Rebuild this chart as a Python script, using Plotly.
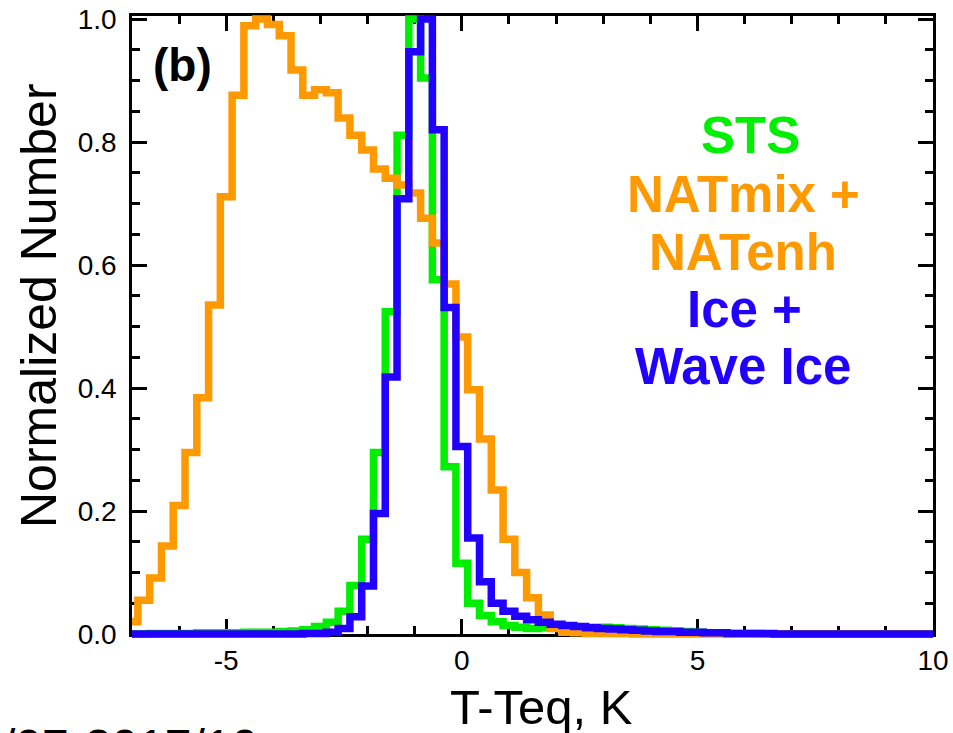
import numpy as np
import plotly.graph_objects as go

# Histogram bins: 0.25 K wide, centred on multiples of 0.25 K from -7 to 10 K
bin_centers = np.round(np.arange(-7.0, 10.0001, 0.25), 2)

# Normalized counts per bin
sts = [
    0.000, 0.000, 0.001, 0.001, 0.001, 0.001, 0.002, 0.002, 0.002, 0.002,
    0.003, 0.003, 0.003, 0.004, 0.005, 0.007, 0.012, 0.019, 0.037, 0.079,
    0.154, 0.295, 0.524, 0.811, 1.000, 0.904, 0.576, 0.272, 0.115, 0.050,
    0.030, 0.020, 0.014, 0.011, 0.009, 0.010, 0.010, 0.010, 0.011, 0.011,
    0.011, 0.010, 0.009, 0.008, 0.007, 0.006, 0.005, 0.004, 0.003, 0.002,
    0.002, 0.001, 0.001, 0.001, 0.000, 0.000, 0.000, 0.000, 0.000, 0.000,
    0.000, 0.000, 0.000, 0.000, 0.000, 0.000, 0.000, 0.000, 0.000,
]
nat = [
    0.020, 0.055, 0.091, 0.143, 0.209, 0.295, 0.384, 0.535, 0.711, 0.876,
    0.989, 1.000, 0.991, 0.973, 0.917, 0.876, 0.885, 0.880, 0.839, 0.811,
    0.787, 0.756, 0.741, 0.730, 0.717, 0.676, 0.636, 0.569, 0.483, 0.397,
    0.317, 0.234, 0.154, 0.100, 0.059, 0.031, 0.009, 0.003, 0.002, 0.001,
    0.001, 0.001, 0.001, 0.000, 0.000, 0.000, 0.000, 0.000, 0.000, 0.000,
    0.000, 0.000, 0.000, 0.000, 0.000, 0.000, 0.000, 0.000, 0.000, 0.000,
    0.000, 0.000, 0.000, 0.000, 0.000, 0.000, 0.000, 0.000, 0.000,
]
ice = [
    0.000, 0.000, 0.000, 0.000, 0.000, 0.000, 0.000, 0.000, 0.000, 0.000,
    0.000, 0.000, 0.000, 0.000, 0.000, 0.001, 0.001, 0.003, 0.009, 0.028,
    0.078, 0.196, 0.418, 0.708, 0.947, 1.000, 0.820, 0.531, 0.305, 0.156,
    0.085, 0.050, 0.037, 0.029, 0.023, 0.019, 0.016, 0.014, 0.012, 0.010,
    0.009, 0.008, 0.007, 0.006, 0.005, 0.004, 0.004, 0.003, 0.003, 0.002,
    0.002, 0.001, 0.001, 0.001, 0.001, 0.000, 0.000, 0.000, 0.000, 0.000,
    0.000, 0.000, 0.000, 0.000, 0.000, 0.000, 0.000, 0.000, 0.000,
]

series_names = ["STS", "NATmix + NATenh", "Ice + Wave Ice"]
series_colors = ["#00EE00", "#FF9900", "#2200FF"]

x_range = [-7.0, 10.0]
y_range = [0.0, 1.005]
x_tickvals = [-5, 0, 5, 10]
y_tickvals = [0.0, 0.2, 0.4, 0.6, 0.8, 1.0]

# Page geometry (pixels)
W, H = 953, 733
FRAME_L, FRAME_R, FRAME_T, FRAME_B = 132, 933, 16, 634
PAD = 10  # data layer extends past the frame so thick steps are not clipped
PAPER_L, PAPER_R = FRAME_L - PAD, FRAME_R + PAD
PAPER_T, PAPER_B = FRAME_T - PAD, FRAME_B + PAD
PW, PH = PAPER_R - PAPER_L, PAPER_B - PAPER_T


def px(xp, yp):
    """Convert page pixel position to paper coordinates."""
    return (xp - PAPER_L) / PW, (PAPER_B - yp) / PH


ux = (x_range[1] - x_range[0]) / (FRAME_R - FRAME_L)
uy = (y_range[1] - y_range[0]) / (FRAME_B - FRAME_T)
x2_range = [x_range[0] - PAD * ux, x_range[1] + PAD * ux]
y2_range = [y_range[0] - PAD * uy, y_range[1] + PAD * uy]

FONT = "Liberation Sans, Arial, Helvetica, sans-serif"

fig = go.Figure()

# Empty trace so the framed axes are rendered
fig.add_trace(go.Scatter(x=[], y=[], xaxis="x", yaxis="y",
                         showlegend=False, hoverinfo="skip"))

for vals, name, col in zip([sts, nat, ice], series_names, series_colors):
    fig.add_trace(go.Scatter(
        x=bin_centers, y=vals, name=name, mode="lines",
        line=dict(color=col, width=7.5, shape="hvh"),
        xaxis="x2", yaxis="y2", showlegend=False,
    ))

axis_common = dict(
    showline=True, linecolor="black", linewidth=2.5, mirror="ticks",
    ticks="inside", tickcolor="black", tickwidth=2.5, ticklen=15,
    showgrid=False, zeroline=False, automargin=False,
    tickfont=dict(family=FONT, size=28, color="black"),
)

fig.update_layout(
    width=W, height=H, autosize=False,
    margin=dict(l=PAPER_L, r=W - PAPER_R, t=PAPER_T, b=H - PAPER_B, pad=0,
                autoexpand=False),
    paper_bgcolor="white", plot_bgcolor="rgba(0,0,0,0)",
    xaxis=dict(
        domain=[PAD / PW, 1 - PAD / PW], anchor="y",
        range=x_range, tickvals=x_tickvals,
        ticktext=[str(v) for v in x_tickvals],
        minor=dict(dtick=1, ticks="inside", ticklen=8, tickwidth=2.5,
                   tickcolor="black", showgrid=False),
        ticklabelstandoff=0,
        **axis_common,
    ),
    yaxis=dict(
        domain=[PAD / PH, 1 - PAD / PH], anchor="x",
        range=y_range, tickvals=y_tickvals,
        ticktext=[f"{v:.1f}" for v in y_tickvals],
        minor=dict(dtick=0.05, ticks="inside", ticklen=8, tickwidth=2.5,
                   tickcolor="black", showgrid=False),
        ticklabelstandoff=7,
        **axis_common,
    ),
    xaxis2=dict(domain=[0, 1], anchor="y2", range=x2_range, visible=False,
                automargin=False),
    yaxis2=dict(domain=[0, 1], anchor="x2", range=y2_range, visible=False,
                automargin=False),
    showlegend=False,
)

annotations = []


def add_text(text, xp, yp, size, color="black", bold=False, angle=0,
             xanchor="center", yanchor="middle"):
    ax, ay = px(xp, yp)
    annotations.append(dict(
        text=text, x=ax, y=ay, xref="paper", yref="paper",
        xanchor=xanchor, yanchor=yanchor, showarrow=False, textangle=angle,
        font=dict(family=FONT, size=size, color=color,
                  weight="bold" if bold else "normal"),
    ))


# Panel label
add_text("(b)", 182, 65, 46, bold=True)

# Series labels
label_lines = [
    ("STS", series_colors[0], 750, 135),
    ("NATmix +", series_colors[1], 743, 194),
    ("NATenh", series_colors[1], 743, 252),
    ("Ice +", series_colors[2], 744, 309),
    ("Wave Ice", series_colors[2], 743, 366),
]
for txt, col, xp, yp in label_lines:
    add_text(txt, xp, yp, 51, color=col, bold=True)

# Axis titles
add_text("T-Teq, K", 541, 707, 49)
add_text("Normalized Number", 39, 306, 50, angle=-90)

# Period caption along the bottom edge
add_text("/07-2017/10", 0, 746, 48, xanchor="left")

fig.update_layout(annotations=annotations)

fig.write_html("out.html")
